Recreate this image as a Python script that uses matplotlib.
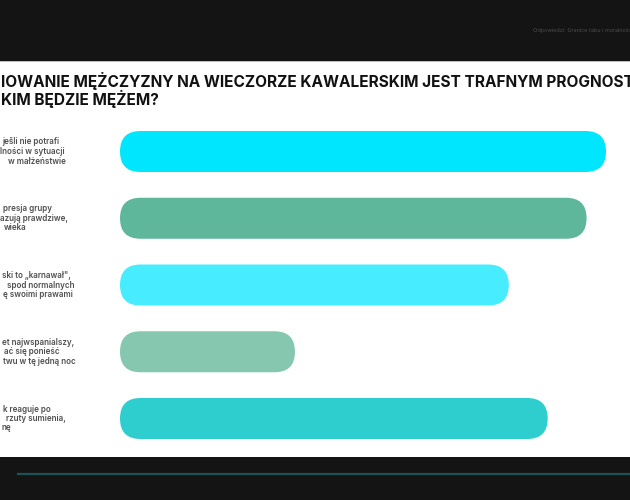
import matplotlib
matplotlib.use("Agg")
import matplotlib.pyplot as plt
from matplotlib.patches import FancyBboxPatch, Rectangle
from matplotlib.lines import Line2D

plt.rcParams["font.family"] = ["Inter", "DejaVu Sans"]

# ---------------- Data ----------------
title_lines = [
    "IOWANIE MĘŻCZYZNY NA WIECZORZE KAWALERSKIM JEST TRAFNYM PROGNOSTYKIEM",
    "KIM BĘDZIE MĘŻEM?",
]
header_note = "Odpowiedzi: Granice tabu i moralności"

labels = [
    ["ješli nie potrafi", "lności w sytuacji", " w małżeństwie"],
    ["presja grupy", "azują prawdziwe,", "wieka"],
    ["ski to „karnawał\",", "spod normalnych", "ę swoimi prawami"],
    ["et najwspanialszy,", "ać się ponieść", "twu w tę jedną noc"],
    ["k reaguje po", "rzuty sumienia,", "nę"],
]
values = [100, 96, 80, 36, 88]
colors = ["#00E6FF", "#5FB79B", "#48ECFF", "#86C7B0", "#2DCECD"]

# left offsets (px) of each visible label line, the text is cut by the frame
label_x = [[2, 0, 8], [3, 0, 4], [2, 7, 3], [2, 4, 3], [3, 6, 2]]

W, H = 630, 500
fig = plt.figure(figsize=(W / 100, H / 100), dpi=100, facecolor="#141414")

# white slide area (behind the axes)
fig.add_artist(Rectangle((0, 1 - 62 / H), 1, 1 / H, transform=fig.transFigure,
                         color="#bdbdbd", lw=0, zorder=-2))
fig.add_artist(Rectangle((0, 1 - 457 / H), 1, (457 - 62) / H,
                         transform=fig.transFigure, color="white", lw=0, zorder=-2))

# header note top right
fig.text(533 / W, 1 - 30 / H, header_note, fontsize=4, color="#4a4a4a",
         va="center", ha="left")

# title
for i, line in enumerate(title_lines):
    fig.text(1 / W, 1 - (80.5 + i * 18) / H, line, fontsize=11.1,
             fontweight="bold", color="#111111", va="center", ha="left")

# ---------------- Bars ----------------
ax_left, ax_width = 120, 486
row = 66.75
ax_top = 151.5 - row / 2
ax = fig.add_axes([ax_left / W, 1 - (ax_top + 5 * row) / H, ax_width / W, 5 * row / H])
ax.set_xlim(0, 100)
ax.set_ylim(len(values) - 0.5, -0.5)
ax.axis("off")

bar_h = 41 / row
px_per_x = ax_width / 100
r = (41 / 2) / px_per_x
asp = (bar_h / 2) / r
for i, (v, c) in enumerate(zip(values, colors)):
    ax.add_patch(FancyBboxPatch((0, i - bar_h / 2), v, bar_h,
                                boxstyle=f"round,pad=0,rounding_size={r}",
                                mutation_aspect=asp, fc=c, ec="none"))

# category labels (left, cut off)
spacing = 9.5
for i, lines in enumerate(labels):
    yc = ax_top + row * (i + 0.5)
    for j, line in enumerate(lines):
        y = yc + (j - 1) * spacing
        fig.text(label_x[i][j] / W, 1 - y / H, line.strip(), fontsize=5.8,
                 fontweight="semibold", color="#505050", va="center", ha="left")

# bottom accent line
fig.add_artist(Line2D([18 / W, 1], [1 - 474 / H, 1 - 474 / H],
                      transform=fig.transFigure, color="#1f5257", lw=1.6))

fig.savefig("out.png", dpi=100, facecolor=fig.get_facecolor())
